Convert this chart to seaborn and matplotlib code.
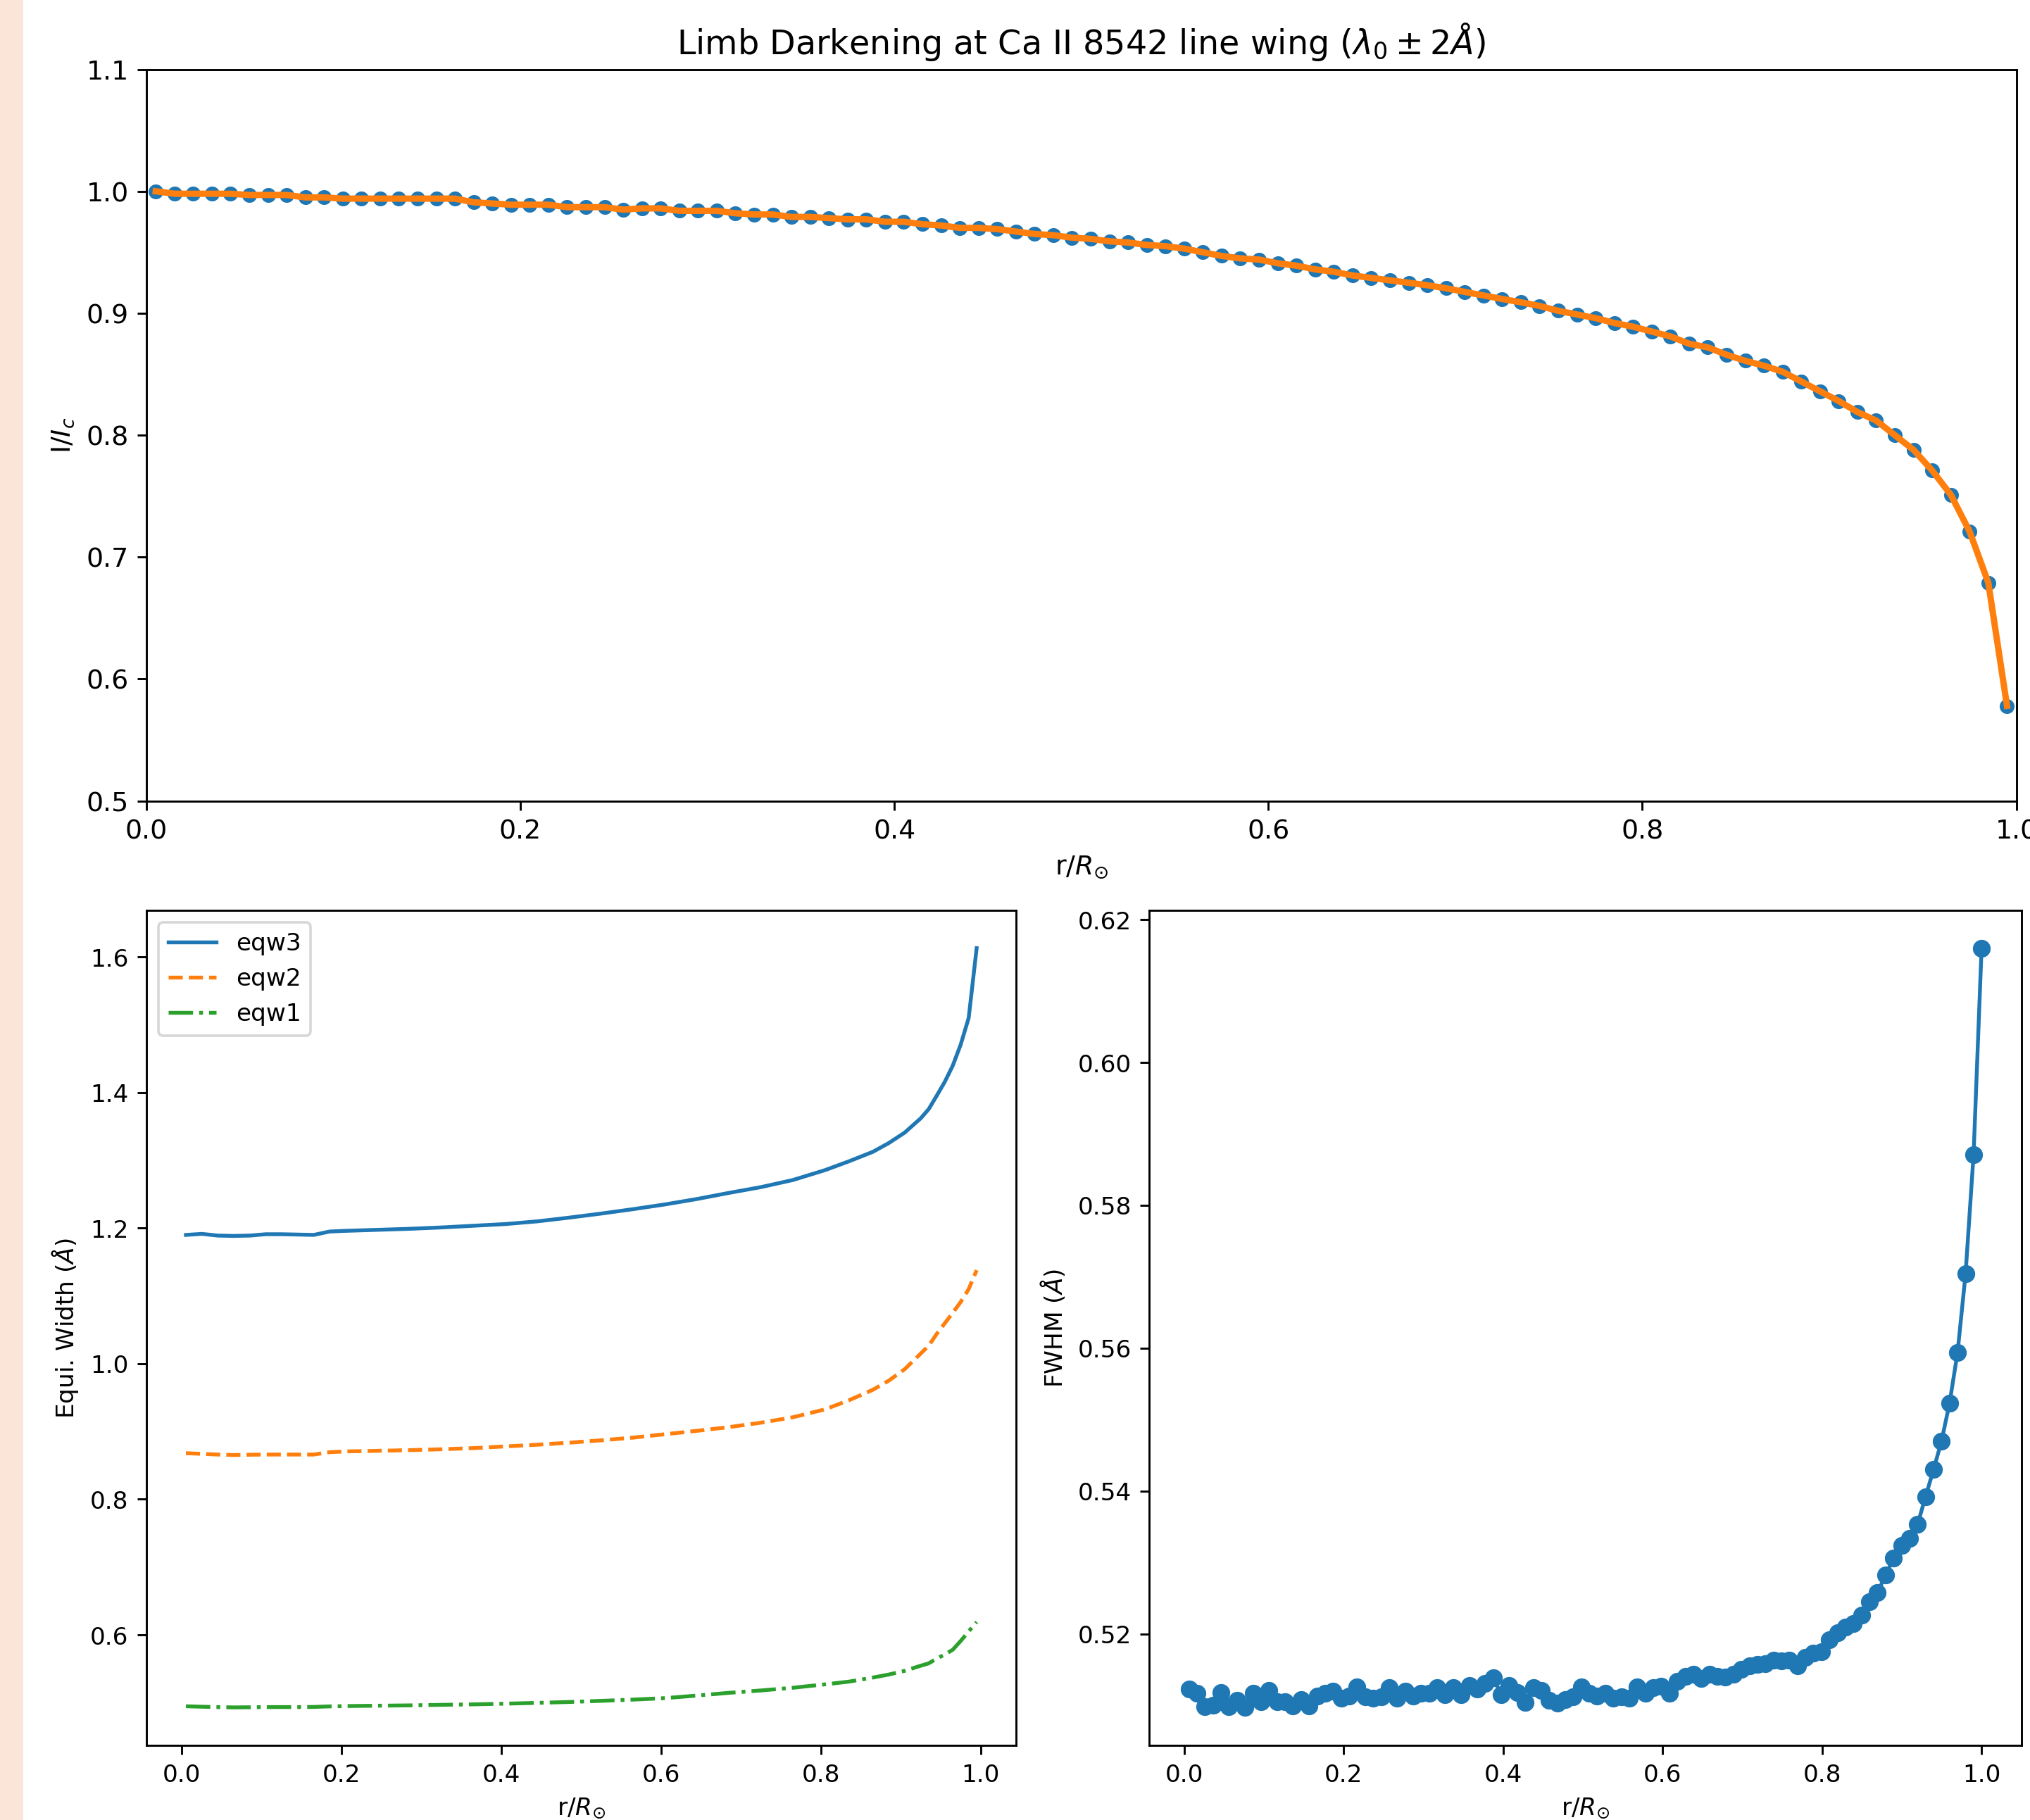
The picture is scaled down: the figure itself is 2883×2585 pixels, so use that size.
"""
Limb darkening, equivalent width and FWHM of the Ca II 8542 line wing
against r/R_sun. Three panels, values read off the original figure.
"""

import numpy as np
import matplotlib
matplotlib.use("Agg")
import matplotlib.pyplot as plt
from matplotlib.patches import Rectangle
import seaborn as sns

BLUE = "#1f77b4"
ORANGE = "#ff7f0e"
GREEN = "#2ca02c"

# top panel: normalised intensity I/I_c on an even radial grid (100 points)
r_limb = np.round(np.arange(0.005, 1.0, 0.01), 3)
i_limb = [
    1.000, 0.998, 0.998, 0.998, 0.998, 0.997, 0.997, 0.997, 0.995, 0.995,
    0.994, 0.994, 0.994, 0.994, 0.994, 0.994, 0.994, 0.991, 0.990, 0.989,
    0.989, 0.989, 0.987, 0.987, 0.987, 0.985, 0.986, 0.986, 0.984, 0.984,
    0.984, 0.982, 0.981, 0.981, 0.979, 0.979, 0.978, 0.977, 0.977, 0.975,
    0.975, 0.973, 0.972, 0.970, 0.970, 0.969, 0.967, 0.965, 0.964, 0.962,
    0.961, 0.959, 0.958, 0.956, 0.955, 0.953, 0.950, 0.947, 0.945, 0.944,
    0.941, 0.939, 0.936, 0.934, 0.931, 0.929, 0.927, 0.925, 0.923, 0.9205,
    0.9175, 0.9146, 0.9117, 0.909, 0.906, 0.902, 0.899, 0.896, 0.892, 0.889,
    0.885, 0.881, 0.875, 0.872, 0.866, 0.861, 0.857, 0.852, 0.844, 0.836,
    0.828, 0.819, 0.812, 0.800, 0.788, 0.771, 0.751, 0.721, 0.679, 0.578,
]

# bottom left: equivalent widths (Angstrom)
r_eqw = [0.005, 0.025, 0.045, 0.065, 0.085, 0.105, 0.125, 0.145, 0.165, 0.185,
         0.205, 0.245, 0.285, 0.325, 0.365, 0.405, 0.445, 0.485, 0.525, 0.565,
         0.605, 0.645, 0.685, 0.725, 0.765, 0.805, 0.835, 0.865, 0.885, 0.905,
         0.925, 0.935, 0.945, 0.955, 0.965, 0.975, 0.985, 0.995]
eqw3 = [1.190, 1.1915, 1.189, 1.1885, 1.189, 1.191, 1.191, 1.1905, 1.190, 1.195,
        1.196, 1.1975, 1.199, 1.201, 1.2035, 1.206, 1.210, 1.2155, 1.2215, 1.228,
        1.235, 1.243, 1.252, 1.2605, 1.271, 1.2855, 1.2985, 1.3125, 1.3255, 1.341,
        1.362, 1.3756, 1.3953, 1.4156, 1.4394, 1.4707, 1.510, 1.613]
eqw2 = [0.868, 0.867, 0.866, 0.8653, 0.8657, 0.866, 0.866, 0.866, 0.866, 0.8695,
        0.8706, 0.8715, 0.8725, 0.8738, 0.8755, 0.878, 0.8805, 0.8835, 0.887, 0.891,
        0.896, 0.901, 0.9065, 0.913, 0.921, 0.9326, 0.946, 0.9615, 0.975, 0.992,
        1.015, 1.0266, 1.044, 1.0595, 1.075, 1.091, 1.110, 1.138]
eqw1 = [0.4947, 0.494, 0.4935, 0.493, 0.4932, 0.4935, 0.4935, 0.4935, 0.4937, 0.4945,
        0.495, 0.4955, 0.496, 0.4968, 0.4975, 0.4985, 0.4997, 0.501, 0.5027, 0.5045,
        0.5067, 0.5105, 0.5145, 0.518, 0.522, 0.527, 0.531, 0.537, 0.5415, 0.547,
        0.5545, 0.558, 0.565, 0.571, 0.578, 0.591, 0.605, 0.619]

# bottom right: FWHM (Angstrom) on an even grid from 0.006 to 1.0
r_fwhm = np.linspace(0.006, 1.0, 100)
fwhm = [
    0.5123, 0.5117, 0.5098, 0.5100, 0.5118, 0.5098, 0.5107, 0.5097, 0.5117, 0.5105,
    0.5121, 0.5105, 0.5105, 0.5099, 0.5108, 0.5099, 0.5113, 0.5117, 0.5120, 0.5110,
    0.5113, 0.5126, 0.5112, 0.5110, 0.5112, 0.5125, 0.5110, 0.5120, 0.5113, 0.5117,
    0.5117, 0.5125, 0.5115, 0.5125, 0.5115, 0.5128, 0.5123, 0.5131, 0.5138, 0.5115,
    0.5128, 0.5118, 0.5104, 0.5125, 0.5121, 0.5107, 0.5103, 0.5108, 0.5112, 0.5126,
    0.5117, 0.5113, 0.5117, 0.5110, 0.5112, 0.5110, 0.5126, 0.5117, 0.5125, 0.5127,
    0.5117, 0.5134, 0.5140, 0.5143, 0.5137, 0.5143, 0.5140, 0.5139, 0.5143, 0.5150,
    0.5155, 0.5157, 0.5158, 0.5163, 0.5162, 0.5163, 0.5155, 0.5167, 0.5173, 0.5175,
    0.5192, 0.5202, 0.5209, 0.5214, 0.5226, 0.5245, 0.5258, 0.5282, 0.5306, 0.5324,
    0.5334, 0.5353, 0.5392, 0.5430, 0.5470, 0.5523, 0.5594, 0.5704, 0.5871, 0.6160,
]

DPI = 260
fig = plt.figure(figsize=(2883.5 / DPI, 2585.5 / DPI), dpi=DPI)
fig.add_artist(Rectangle((0, 0), 33 / 2883, 1, transform=fig.transFigure,
                         facecolor="#fae5d8", edgecolor="none", zorder=0))

# --- top: limb darkening curve
ax_top = fig.add_axes([0.0721, 0.5598, 0.9210, 0.4019])
sns.scatterplot(x=r_limb, y=i_limb, ax=ax_top, s=34, color=BLUE,
                linewidth=0, zorder=2)
sns.lineplot(x=r_limb, y=i_limb, ax=ax_top, color=ORANGE, linewidth=2.5,
             zorder=3)
ax_top.set_xlim(0, 1.0)
ax_top.set_ylim(0.5, 1.1)
ax_top.tick_params(labelsize=10.5)
ax_top.set_title(r"Limb Darkening at Ca II 8542 line wing ($\lambda_0 \pm 2\AA$)",
                 fontsize=13.2)
ax_top.set_xlabel(r"r/$R_{\odot}$", fontsize=10.5)
ax_top.set_ylabel(r"I/$I_c$", fontsize=10.5)

# --- bottom left: equivalent widths
ax_eqw = fig.add_axes([0.0721, 0.0410, 0.4284, 0.4588])
sns.lineplot(x=r_eqw, y=eqw3, ax=ax_eqw, color=BLUE, linestyle="-", label="eqw3")
sns.lineplot(x=r_eqw, y=eqw2, ax=ax_eqw, color=ORANGE, linestyle="--", label="eqw2")
sns.lineplot(x=r_eqw, y=eqw1, ax=ax_eqw, color=GREEN, linestyle="-.", label="eqw1")
ax_eqw.legend(loc="upper left", fontsize=9.5)
ax_eqw.tick_params(labelsize=9.5)
ax_eqw.set_xlabel(r"r/$R_{\odot}$", fontsize=9.5)
ax_eqw.set_ylabel(r"Equi. Width ($\AA$)", fontsize=9.5)

# --- bottom right: FWHM
ax_fw = fig.add_axes([0.5661, 0.0410, 0.4294, 0.4588])
sns.lineplot(x=r_fwhm, y=fwhm, ax=ax_fw, color=BLUE, marker="o", markersize=6,
             markeredgecolor=BLUE, markeredgewidth=1)
ax_fw.tick_params(labelsize=9.5)
ax_fw.set_xlabel(r"r/$R_{\odot}$", fontsize=9.5)
ax_fw.set_ylabel(r"FWHM ($\AA$)", fontsize=9.5)

fig.savefig("out.png", dpi=DPI)
plt.close(fig)
